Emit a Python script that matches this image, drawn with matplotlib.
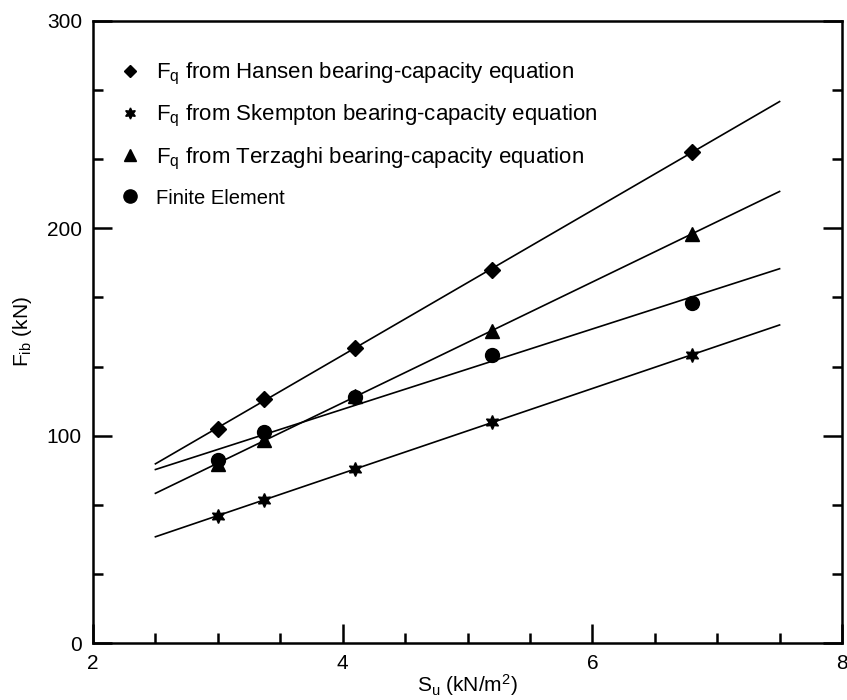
import numpy as np
import matplotlib
matplotlib.use('Agg')
from matplotlib import pyplot as plt
from matplotlib.ticker import MultipleLocator

plt.rcParams['font.family'] = ['Liberation Sans', 'DejaVu Sans']
plt.rcParams['mathtext.fontset'] = 'custom'
plt.rcParams['mathtext.rm'] = 'Liberation Sans'
plt.rcParams['mathtext.it'] = 'Liberation Sans'

# undrained shear strength (kN/m2)
su = [3.0, 3.37, 4.1, 5.2, 6.8]

# interface force F_ib (kN)
hansen = [103.3, 117.7, 142.5, 180.0, 237.0]
skempton = [61.4, 69.1, 83.9, 106.4, 139.1]
terzaghi = [86.5, 97.8, 119.0, 150.5, 197.5]
finite_element = [88.4, 101.6, 118.5, 139.0, 164.0]

labels = [r'$\mathregular{F_q}$ from Hansen bearing-capacity equation',
          r'$\mathregular{F_q}$ from Skempton bearing-capacity equation',
          r'$\mathregular{F_q}$ from Terzaghi bearing-capacity equation',
          'Finite Element']

fit_range = [2.5, 7.5]

fig = plt.figure(figsize=(8.47, 7.0), dpi=100)
ax = fig.add_axes([0.1098, 0.0814, 0.8843, 0.8886])

series = [(hansen, 'D', 8), (skempton, (6, 1, 0), 10),
          (terzaghi, '^', 10), (finite_element, 'o', 10)]

handles = []
for (vals, marker, ms), label in zip(series, labels):
    # least-squares line through each data set
    k, b = np.polyfit(su, vals, 1)
    xs = np.array(fit_range)
    ax.plot(xs, k * xs + b, color='black', lw=1.2)
    h, = ax.plot(su, vals, linestyle='none', marker=marker, ms=ms,
                 color='black', label=label)
    handles.append(h)

leg = ax.legend(handles=handles, loc='upper left', frameon=False,
                fontsize=16, handletextpad=0.75, labelspacing=0.73,
                bbox_to_anchor=(0.026, 0.95), handlelength=0.8,
                borderaxespad=0.0)
leg.get_texts()[3].set_fontsize(14.5)
for h, ms in zip(leg.legend_handles, [6.5, 8, 9, 9.5]):
    h.set_markersize(ms)

ax.set_xlim(2, 8)
ax.set_ylim(0, 300)
ax.xaxis.set_major_locator(MultipleLocator(2))
ax.xaxis.set_minor_locator(MultipleLocator(0.5))
ax.yaxis.set_major_locator(MultipleLocator(100))
ax.yaxis.set_minor_locator(MultipleLocator(100 / 3))

ax.tick_params(which='both', direction='in', right=True, top=False,
               labelsize=15, width=1.8)
ax.tick_params(which='major', length=14, pad=8)
ax.tick_params(which='minor', length=7)
for sp in ax.spines.values():
    sp.set_linewidth(1.8)

ax.set_xlabel(r'$\mathregular{S_u}$ (kN/m$\mathregular{^2}$)', fontsize=15,
              labelpad=-1)
ax.set_ylabel(r'$\mathregular{F_{ib}}$ (kN)', fontsize=15, labelpad=9)

fig.savefig('out.png', dpi=100, facecolor='white')
